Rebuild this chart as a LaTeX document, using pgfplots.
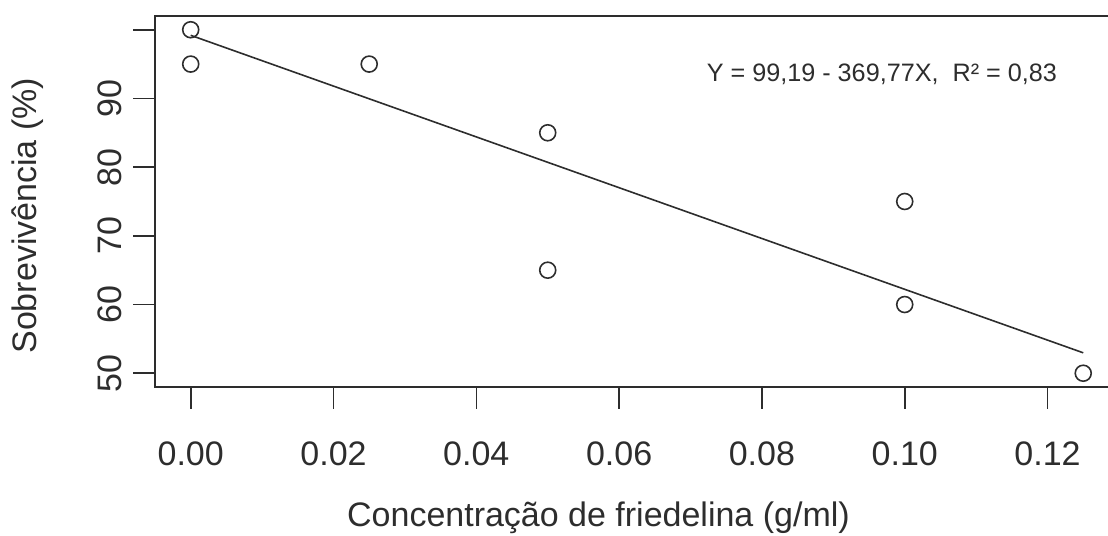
\documentclass[border=0pt]{standalone}
\usepackage{fontspec}
\setmainfont{Liberation Sans}
\usepackage{pgfplots}
\pgfplotsset{compat=1.18}
\definecolor{ink}{RGB}{45,45,45}
\tikzset{tl/.style={font=\fontsize{17}{20}\selectfont, text=ink, anchor=center, inner sep=0pt}}
\begin{document}
\begin{tikzpicture}
\begin{axis}[
  scale only axis, width=482pt, height=185.5pt,
  xmin=-0.005, xmax=0.13, ymin=48, ymax=102,
  axis line style={ink, line width=0.8pt},
  xtick={0,0.02,0.04,0.06,0.08,0.10,0.12},
  xticklabels={},
  ytick={50,60,70,80,90,100},
  yticklabels={},
  tick align=outside, major tick length=11pt,
  xtick pos=bottom, ytick pos=left,
  tick style={ink, line width=0.8pt},
  clip=false,
]
\addplot[ink, line width=0.8pt] coordinates {(0,99.19) (0.125,52.97)};
\addplot[only marks, mark=o, mark size=4pt, ink, mark options={line width=0.8pt}] coordinates {
(0,100) (0,95) (0.025,95) (0.05,85) (0.05,65) (0.1,75) (0.1,60) (0.125,50)};
% x tick labels
\node[tl] at (axis cs:0.00,38.25) {0.00};
\node[tl] at (axis cs:0.02,38.25) {0.02};
\node[tl] at (axis cs:0.04,38.25) {0.04};
\node[tl] at (axis cs:0.06,38.25) {0.06};
\node[tl] at (axis cs:0.08,38.25) {0.08};
\node[tl] at (axis cs:0.10,38.25) {0.10};
\node[tl] at (axis cs:0.12,38.25) {0.12};
% y tick labels
\node[tl, rotate=90] at (axis cs:-0.0113,50) {50};
\node[tl, rotate=90] at (axis cs:-0.0113,60) {60};
\node[tl, rotate=90] at (axis cs:-0.0113,70) {70};
\node[tl, rotate=90] at (axis cs:-0.0113,80) {80};
\node[tl, rotate=90] at (axis cs:-0.0113,90) {90};
\node[font=\fontsize{12.6}{15}\selectfont, text=ink] at (axis cs:0.0968,93.45) {Y = 99,19 - 369,77X,\ \ R² = 0,83};
\node[font=\fontsize{17}{20}\selectfont, text=ink] at (axis cs:0.05711,28.93) {Concentração de friedelina (g/ml)};
\node[font=\fontsize{17}{20}\selectfont, text=ink, rotate=90] at (axis cs:-0.02279,72.93) {Sobrevivência (\%)};
\coordinate (bl) at (axis cs:-0.02671,26.31);
\coordinate (tr) at (axis cs:0.12847,104.33);
\end{axis}
\pgfresetboundingbox
\useasboundingbox (bl) rectangle (tr);
\end{tikzpicture}
\end{document}
